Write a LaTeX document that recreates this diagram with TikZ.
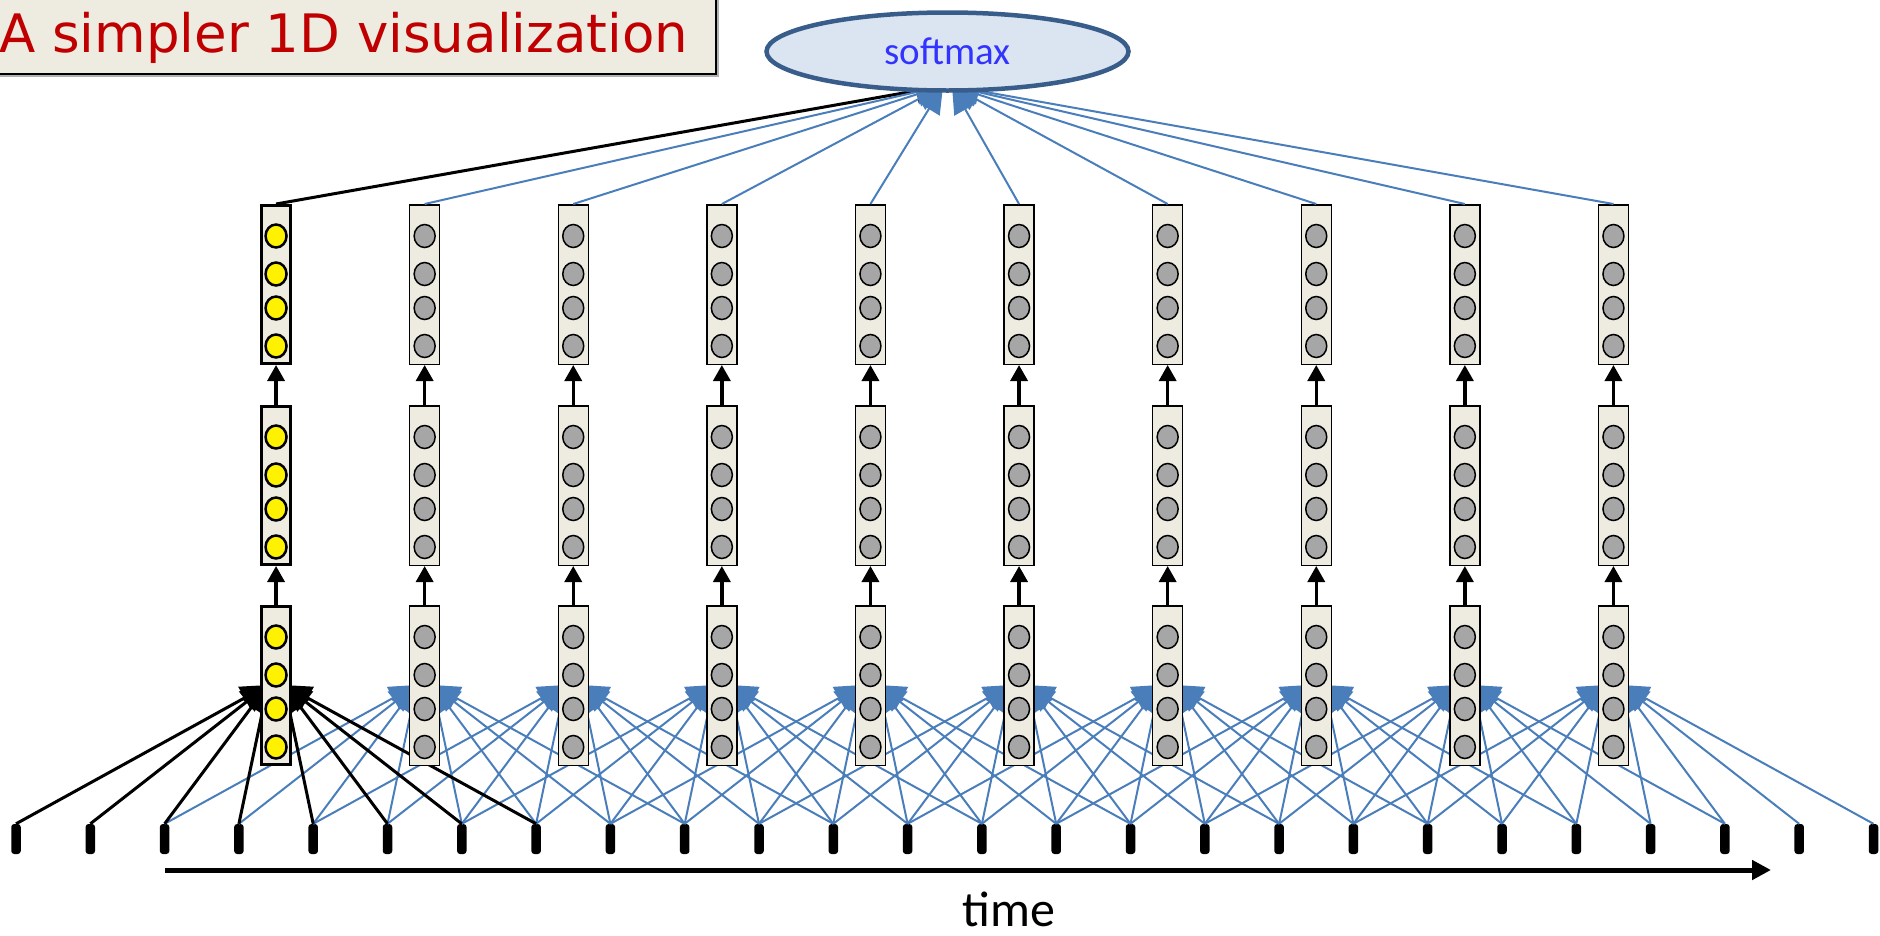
\documentclass[tikz,border=0pt]{standalone}
\usepackage{fontspec}
\setmainfont{Carlito}
\newfontfamily\headfont{DejaVu Sans}
\usetikzlibrary{arrows.meta,shapes.geometric}
\definecolor{boxtan}{HTML}{EEECE1}
\definecolor{unitgray}{HTML}{A6A6A6}
\definecolor{linkblue}{HTML}{4A7EBB}
\definecolor{smfill}{HTML}{DBE5F1}
\definecolor{smedge}{HTML}{385D8A}
\definecolor{smtext}{HTML}{3333FF}
\definecolor{headred}{HTML}{C00000}

\tikzset{
  layerbox/.style={draw=black, line width=1.5pt, fill=boxtan, minimum width=30pt, minimum height=159.5pt, inner sep=0pt},
  hotbox/.style={layerbox, line width=3pt, minimum width=29pt, minimum height=158pt},
  unit/.style={ellipse, draw=black, line width=1.5pt, fill=unitgray, minimum width=21pt, minimum height=23pt, inner sep=0pt},
  hotunit/.style={unit, fill=yellow, line width=2.5pt},
  timetick/.style={fill=black, rounded corners=3pt, minimum width=9.5pt, minimum height=30pt, inner sep=0pt},
  uplink/.style={line width=3.5pt, -{Triangle[length=16pt,width=17pt]}},
  feed/.style={draw=linkblue, line width=2pt, -{Triangle[length=27pt,width=25pt]}},
  hotfeed/.style={feed, draw=black, line width=3pt},
  topfeed/.style={-{Triangle[length=27pt,width=25pt]}},
  softmax/.style={ellipse, draw=smedge, line width=4.5pt, fill=smfill, minimum width=362pt, minimum height=78pt, inner sep=0pt, text=smtext, font=\fontsize{39}{47}\selectfont}
}

\begin{document}
\begin{tikzpicture}[x=1pt,y=-1pt]
\useasboundingbox (0,0) rectangle (1880,935);

% heading
\fill[gray!60] (-5,-5) rectangle (719,77);
\draw[line width=2pt, fill=boxtan] (-5,-5) rectangle (716,74);
\node[anchor=base west, inner sep=0pt, text=headred] (head) at (-1,52) {\headfont\fontsize{53}{64}\selectfont A simpler 1D visualization};

% input frames
\foreach \n in {0,...,25}
  \node[timetick] (tk\n) at ({16+74.3*\n},839) {};

% where the inputs land
\foreach \col in {0,...,9} {
  \pgfmathsetmacro{\cx}{276.05+148.6*\col}
  \coordinate (inl\col) at (\cx-8,685);
  \coordinate (inr\col) at (\cx+8,685);
}

% input connections
\foreach \col in {1,...,9}
  \foreach \jj in {0,...,7} {
    \pgfmathtruncatemacro{\tk}{2*\col+\jj}
    \ifnum\jj<4 \draw[feed] (tk\tk.north) -- (inl\col); \else \draw[feed] (tk\tk.north) -- (inr\col); \fi
  }
\foreach \jj in {0,...,7} {
  \ifnum\jj<4 \draw[hotfeed] (tk\jj.north) -- (inl0); \else \draw[hotfeed] (tk\jj.north) -- (inr0); \fi
}

% layers
\foreach \col in {0,...,9} {
  \ifnum\col=0 \def\bx{hotbox}\def\un{hotunit}\else \def\bx{layerbox}\def\un{unit}\fi
  \pgfmathsetmacro{\cx}{276.05+148.6*\col}
  \foreach \lay/\ytop in {1/605,2/405,3/204} {
    \node[\bx] (b\lay-\col) at (\cx,\ytop+80.5) {};
    \foreach \row/\dy in {1/32,2/70,3/104,4/142}
      \node[\un] (u\lay-\col-\row) at (\cx,\ytop+\dy) {};
  }
  \draw[uplink] (b1-\col.north) -- (b2-\col.south);
  \draw[uplink] (b2-\col.north) -- (b3-\col.south);
}

% to the softmax
\coordinate (smL) at (943,86);
\coordinate (smR) at (952,86);
\draw[hotfeed, topfeed] (b3-0.north) -- (smL);
\foreach \col in {1,...,4}
  \draw[feed, topfeed] (b3-\col.north) -- (smL);
\foreach \col in {5,...,9}
  \draw[feed, topfeed] (b3-\col.north) -- (smR);
\node[softmax] (sm) at (947.5,51.5) {softmax};

% time axis
\coordinate (t0) at (165,870);
\coordinate (t1) at (1771,870);
\draw[line width=5pt, -{Triangle[length=19pt,width=19pt]}] (t0) -- (t1);
\node[anchor=base, inner sep=0pt, font=\fontsize{50}{60}\selectfont] (tlabel) at (1009,926) {time};
\end{tikzpicture}
\end{document}
